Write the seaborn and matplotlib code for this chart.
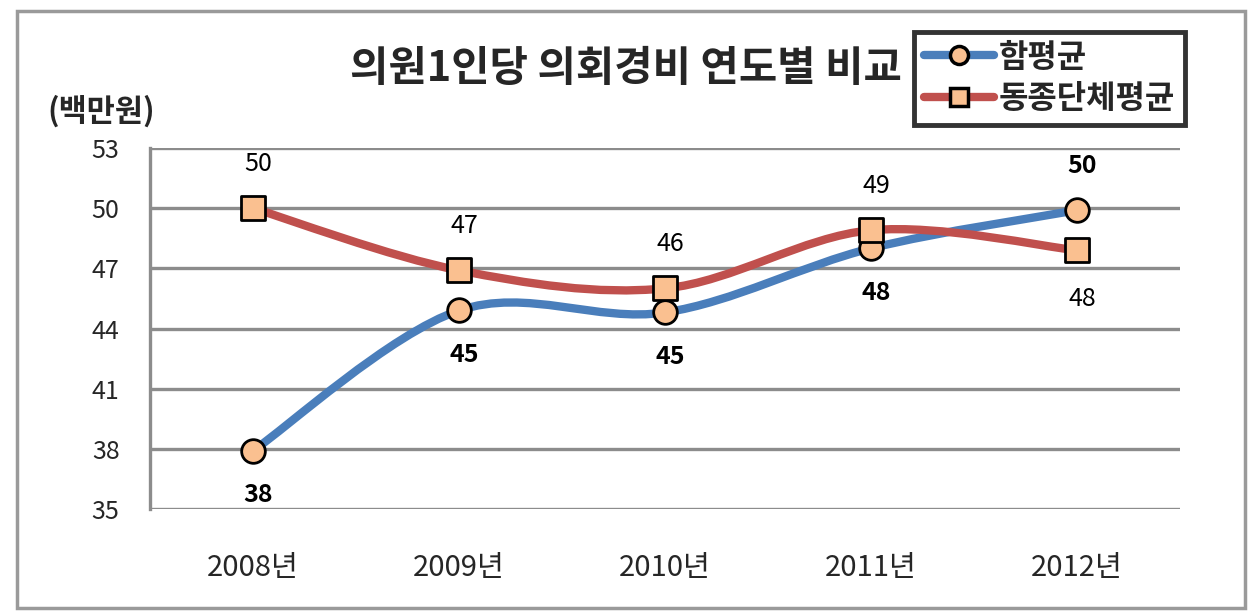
import numpy as np
import pandas as pd
import seaborn as sns
import matplotlib.pyplot as plt
from matplotlib.path import Path
from matplotlib.patches import PathPatch, Rectangle
from matplotlib.lines import Line2D

years = ["2008년", "2009년", "2010년", "2011년", "2012년"]
hampyeong = [37.9, 44.9, 44.8, 48.0, 49.9]
similar_avg = [50.0, 46.9, 46.0, 48.9, 47.9]
series_names = ["함평균", "동종단체평균"]
y_ticks = [35, 38, 41, 44, 47, 50, 53]

BLUE = "#4A7EBB"
RED = "#C0504D"
FILL = "#FAC090"
GRID = "#8C8C8C"

sns.set_style("white")
plt.rcParams['font.family'] = ['Noto Sans CJK KR', 'DejaVu Sans']


# excel style smoothed line: catmull-rom turned into bezier segments
def smooth_path(xs, ys):
    pts = np.column_stack([xs, ys]).astype(float)
    n = len(pts)
    verts = [pts[0]]
    codes = [Path.MOVETO]
    for i in range(n - 1):
        p0 = pts[max(i - 1, 0)]
        p1 = pts[i]
        p2 = pts[i + 1]
        p3 = pts[min(i + 2, n - 1)]
        verts += [p1 + (p2 - p0) / 6, p2 - (p3 - p1) / 6, p2]
        codes += [Path.CURVE4] * 3
    return Path(verts, codes)


df = pd.DataFrame({
    "year": years * 2,
    "value": hampyeong + similar_avg,
    "series": [series_names[0]] * len(years) + [series_names[1]] * len(years),
})

fig = plt.figure(figsize=(12.56, 6.15), dpi=100)
ax = fig.add_axes([0.1194, 0.1724, 0.8201, 0.5869])

xs = np.arange(len(years))
styles = [
    (series_names[0], hampyeong, BLUE, "o", 290),
    (series_names[1], similar_avg, RED, "s", 320),
]

# lines first, red on top of blue
for name, vals, color, marker, size in styles:
    ax.add_patch(PathPatch(smooth_path(xs, vals), facecolor="none", edgecolor=color,
                           lw=6, capstyle="round", joinstyle="round", zorder=3))

for name, vals, color, marker, size in styles:
    sub = df[df["series"] == name]
    sns.scatterplot(data=sub, x="year", y="value", marker=marker, s=size, color=FILL,
                    edgecolor="black", linewidth=2, ax=ax, zorder=5, legend=False)

# data labels: blue below (bold), red above (regular), except 2012 swapped
for i, v in enumerate(hampyeong):
    up = i == len(years) - 1
    ax.annotate(f"{v:.0f}", (i, v), xytext=(4, 32 if up else -32), textcoords="offset points",
                ha="center", va="center", fontsize=18, fontweight="bold", color="black")
for i, v in enumerate(similar_avg):
    up = i != len(years) - 1
    ax.annotate(f"{v:.0f}", (i, v), xytext=(4, 32 if up else -35), textcoords="offset points",
                ha="center", va="center", fontsize=18, fontweight="medium", color="black")

ax.set_xlim(-0.5, len(years) - 0.5)
ax.set_ylim(y_ticks[0], y_ticks[-1])
ax.set_yticks(y_ticks)
ax.set_yticklabels([str(t) for t in y_ticks], fontsize=18)
ax.set_xticks(xs)
ax.set_xticklabels(years, fontsize=21)
ax.tick_params(axis="y", length=0, pad=22)
ax.tick_params(axis="x", length=0, pad=32)
ax.set_xlabel("")
ax.set_ylabel("")
ax.grid(axis="y", color=GRID, lw=2.4, zorder=1)
ax.grid(axis="x", visible=False)
for side in ["top", "right", "bottom"]:
    ax.spines[side].set_visible(False)
ax.spines["left"].set_color(GRID)
ax.spines["left"].set_linewidth(2.4)

fig.text(0.498, 0.887, "의원1인당 의회경비 연도별 비교", ha="center", va="center",
         fontsize=30, fontweight="bold")
fig.text(0.038, 0.818, "(백만원)", ha="left", va="center", fontsize=22, fontweight="bold")

handles = [
    Line2D([0], [0], color=BLUE, lw=6, marker="o", markersize=13, markerfacecolor=FILL,
           markeredgecolor="black", markeredgewidth=2.5),
    Line2D([0], [0], color=RED, lw=6, marker="s", markersize=13, markerfacecolor=FILL,
           markeredgecolor="black", markeredgewidth=2.5),
]
leg = fig.legend(handles, series_names, loc="upper left", bbox_to_anchor=(0.728, 0.948),
                 fontsize=23, frameon=True, fancybox=False, handlelength=2.2,
                 handletextpad=0.15, borderpad=0.3, labelspacing=0.3, borderaxespad=0)
leg.get_frame().set_edgecolor("black")
leg.get_frame().set_linewidth(3.5)
for t in leg.get_texts():
    t.set_fontweight("bold")

# outer chart frame
fig.patches.append(Rectangle((0.0135, 0.0114), 0.978, 0.9707, transform=fig.transFigure,
                             fill=False, edgecolor="#9A9A9A", lw=2.5))

fig.savefig("out.png", dpi=100)
